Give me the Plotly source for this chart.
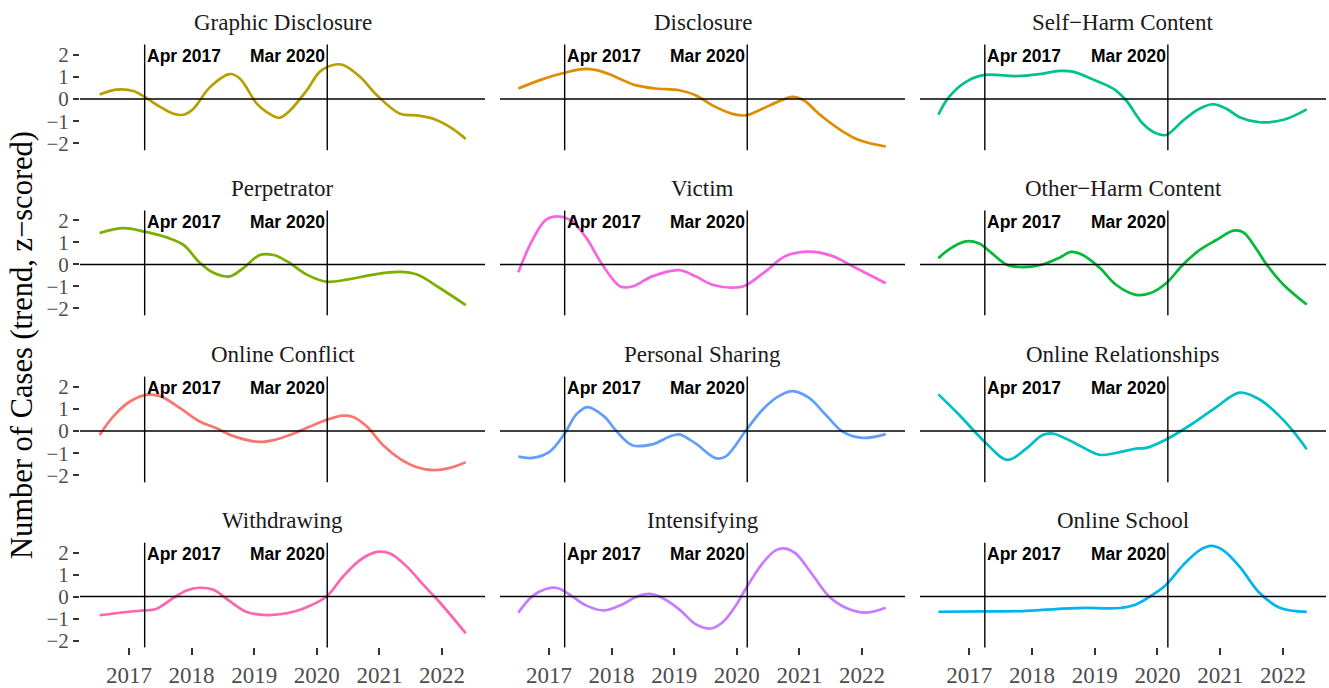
import plotly.graph_objects as go

W, H = 1329, 688

# ---------------- data (decimal years, z-scored trend) ----------------
names = ["Graphic Disclosure", "Disclosure", "Self\u2212Harm Content",
         "Perpetrator", "Victim", "Other\u2212Harm Content",
         "Online Conflict", "Personal Sharing", "Online Relationships",
         "Withdrawing", "Intensifying", "Online School"]
colors = ["#B79F00", "#DE8C00", "#00C08B",
          "#7CAE00", "#F564E3", "#00BA38",
          "#F8766D", "#619CFF", "#00BFC4",
          "#FF64B0", "#C77CFF", "#00B4F0"]

x_graphic = [2016.53, 2016.80, 2017.07, 2017.25, 2017.50, 2017.71, 2017.87, 2018.03, 2018.29, 2018.61, 2018.77,
             2019.04, 2019.20, 2019.40, 2019.57, 2019.84, 2020.05, 2020.26, 2020.42, 2020.69, 2020.96, 2021.33,
             2021.60, 2021.86, 2022.13, 2022.38]
y_graphic = [0.20, 0.42, 0.36, 0.09, -0.36, -0.67, -0.71, -0.44, 0.52, 1.12, 0.92,
             -0.21, -0.59, -0.85, -0.52, 0.39, 1.23, 1.53, 1.53, 1.00, 0.17, -0.67,
             -0.74, -0.89, -1.27, -1.80]

x_disclosure = [2016.51, 2016.89, 2017.25, 2017.59, 2017.85, 2018.12, 2018.38, 2018.70, 2019.08, 2019.34, 2019.61,
                2019.93, 2020.14, 2020.41, 2020.67, 2020.89, 2021.07, 2021.31, 2021.63, 2021.95, 2022.38]
y_disclosure = [0.47, 0.88, 1.18, 1.35, 1.23, 0.92, 0.62, 0.47, 0.39, 0.17, -0.29,
                -0.67, -0.74, -0.44, -0.11, 0.09, -0.06, -0.67, -1.35, -1.85, -2.14]

x_selfharm = [2016.51, 2016.68, 2016.95, 2017.25, 2017.75, 2018.12, 2018.44, 2018.65, 2018.97, 2019.29, 2019.50,
              2019.77, 2019.98, 2020.14, 2020.41, 2020.67, 2020.89, 2021.10, 2021.31, 2021.63, 2022.01, 2022.38]
y_selfharm = [-0.71, 0.09, 0.77, 1.08, 1.03, 1.12, 1.26, 1.23, 0.88, 0.47, -0.06,
              -1.12, -1.55, -1.62, -0.97, -0.44, -0.24, -0.44, -0.82, -1.05, -0.94, -0.47]

x_perp = [2016.53, 2016.91, 2017.25, 2017.60, 2017.87, 2018.13, 2018.35, 2018.61, 2018.83, 2019.09, 2019.31,
          2019.52, 2019.84, 2020.15, 2020.48, 2020.90, 2021.33, 2021.60, 2021.97, 2022.38]
y_perp = [1.43, 1.65, 1.49, 1.23, 0.89, 0.08, -0.38, -0.54, -0.15, 0.43, 0.43,
          0.15, -0.46, -0.78, -0.69, -0.46, -0.34, -0.46, -1.08, -1.85]

x_victim = [2016.51, 2016.73, 2016.95, 2017.16, 2017.35, 2017.59, 2017.85, 2018.14, 2018.33, 2018.65, 2019.08,
            2019.34, 2019.61, 2019.93, 2020.14, 2020.46, 2020.78, 2021.15, 2021.53, 2021.85, 2022.38]
y_victim = [-0.35, 1.08, 2.03, 2.18, 2.00, 1.23, 0.00, -1.00, -1.00, -0.54, -0.26,
            -0.54, -0.92, -1.05, -0.95, -0.31, 0.38, 0.58, 0.38, -0.08, -0.85]

x_otherharm = [2016.51, 2016.68, 2016.95, 2017.16, 2017.37, 2017.59, 2017.85, 2018.17, 2018.44, 2018.62, 2018.81,
               2019.08, 2019.34, 2019.66, 2019.88, 2020.14, 2020.41, 2020.67, 2020.94, 2021.21, 2021.37, 2021.58,
               2021.74, 2022.01, 2022.38]
y_otherharm = [0.28, 0.69, 1.05, 0.95, 0.49, 0.00, -0.12, 0.00, 0.31, 0.57, 0.43,
               -0.15, -0.92, -1.38, -1.31, -0.85, 0.00, 0.65, 1.11, 1.54, 1.46, 0.69,
               0.00, -0.92, -1.82]

x_conflict = [2016.53, 2016.75, 2017.02, 2017.28, 2017.50, 2017.81, 2018.13, 2018.40, 2018.67, 2019.07, 2019.31,
              2019.63, 2019.89, 2020.15, 2020.42, 2020.58, 2020.80, 2021.06, 2021.33, 2021.60, 2021.86, 2022.13,
              2022.38]
y_conflict = [-0.18, 0.66, 1.34, 1.63, 1.57, 1.04, 0.43, 0.12, -0.23, -0.49, -0.41,
              -0.11, 0.20, 0.50, 0.69, 0.63, 0.20, -0.64, -1.25, -1.63, -1.76, -1.66,
              -1.40]

x_sharing = [2016.51, 2016.73, 2017.00, 2017.25, 2017.43, 2017.61, 2017.88, 2018.06, 2018.33, 2018.65, 2018.92,
             2019.08, 2019.34, 2019.66, 2019.82, 2020.14, 2020.41, 2020.67, 2020.89, 2021.15, 2021.42, 2021.69,
             2022.01, 2022.38]
y_sharing = [-1.15, -1.21, -0.95, -0.11, 0.73, 1.08, 0.66, 0.05, -0.64, -0.60, -0.26,
             -0.15, -0.56, -1.22, -1.15, 0.00, 0.96, 1.57, 1.80, 1.50, 0.73, -0.03,
             -0.31, -0.14]

x_relations = [2016.51, 2016.84, 2017.25, 2017.61, 2017.91, 2018.17, 2018.33, 2018.65, 2019.08, 2019.40, 2019.66,
               2019.82, 2020.14, 2020.57, 2020.94, 2021.31, 2021.63, 2021.95, 2022.17, 2022.38]
y_relations = [1.65, 0.73, -0.49, -1.30, -0.79, -0.18, -0.11, -0.49, -1.07, -0.95, -0.79,
               -0.76, -0.38, 0.35, 1.08, 1.73, 1.42, 0.66, -0.03, -0.82]

x_withdraw = [2016.53, 2016.96, 2017.25, 2017.42, 2017.71, 2017.92, 2018.13, 2018.35, 2018.61, 2018.88, 2019.20,
              2019.52, 2019.84, 2020.15, 2020.42, 2020.69, 2020.96, 2021.17, 2021.44, 2021.70, 2021.97, 2022.38]
y_withdraw = [-0.85, -0.70, -0.63, -0.58, -0.06, 0.28, 0.40, 0.31, -0.21, -0.70, -0.84,
              -0.76, -0.48, -0.01, 0.91, 1.66, 2.03, 1.96, 1.36, 0.54, -0.28, -1.67]

x_intens = [2016.51, 2016.73, 2016.95, 2017.13, 2017.37, 2017.59, 2017.88, 2018.17, 2018.38, 2018.60, 2018.76,
            2019.08, 2019.34, 2019.58, 2019.77, 2019.98, 2020.14, 2020.41, 2020.62, 2020.78, 2020.94, 2021.21,
            2021.47, 2021.74, 2022.06, 2022.38]
y_intens = [-0.73, 0.01, 0.34, 0.39, 0.01, -0.40, -0.63, -0.36, -0.03, 0.12, 0.01,
            -0.58, -1.25, -1.45, -1.18, -0.43, 0.34, 1.51, 2.10, 2.18, 1.96, 0.99,
            0.01, -0.51, -0.73, -0.51]

x_school = [2016.51, 2017.25, 2017.85, 2018.38, 2018.86, 2019.18, 2019.40, 2019.66, 2019.93, 2020.14, 2020.41,
            2020.67, 2020.86, 2021.05, 2021.31, 2021.63, 2021.95, 2022.38]
y_school = [-0.69, -0.67, -0.66, -0.57, -0.51, -0.54, -0.52, -0.36, 0.09, 0.54, 1.43,
            2.10, 2.30, 2.10, 1.36, 0.16, -0.51, -0.70]

xs = [x_graphic, x_disclosure, x_selfharm, x_perp, x_victim, x_otherharm,
      x_conflict, x_sharing, x_relations, x_withdraw, x_intens, x_school]
ys = [y_graphic, y_disclosure, y_selfharm, y_perp, y_victim, y_otherharm,
      y_conflict, y_sharing, y_relations, y_withdraw, y_intens, y_school]

event_x = [2017.25, 2020.1667]
event_labels = ["Apr 2017", "Mar 2020"]
year_ticks = [2017, 2018, 2019, 2020, 2021, 2022]
y_ticks = [-2, -1, 0, 1, 2]
y_ticktext = ["\u22122", "\u22121", "0", "1", "2"]

# ---------------- layout geometry (pixels) ----------------
col_px = [(80, 485), (500, 905), (920, 1326)]
row_px = [(43, 150), (211, 317), (379, 486), (547, 653)]
XR = [2016.217, 2022.687]
YR = [-2.31, 2.45]

serif = "Liberation Serif"
sans = "Liberation Sans"

fig = go.Figure()
layout = dict(width=W, height=H, margin=dict(l=0, r=0, t=0, b=0), autosize=False,
              paper_bgcolor="white", plot_bgcolor="white", showlegend=False)
shapes = []
annotations = []

for i in range(12):
    r, c = divmod(i, 3)
    n = "" if i == 0 else str(i + 1)
    xa, ya = "x" + n, "y" + n
    x0, x1 = col_px[c]
    y0, y1 = row_px[r]
    bottom = (r == 3)
    left = (c == 0)
    layout["xaxis" + n] = dict(
        domain=[x0 / W, x1 / W], range=XR, anchor=ya,
        showgrid=False, zeroline=False, showline=False,
        tickvals=year_ticks, ticktext=[str(v) for v in year_ticks],
        showticklabels=bottom, ticks="outside" if bottom else "",
        ticklen=7, tickwidth=2.2, tickcolor="#333333",
        tickfont=dict(family=serif, size=23, color="#4D4D4D"),
    )
    layout["yaxis" + n] = dict(
        domain=[1 - y1 / H, 1 - y0 / H], range=YR, anchor=xa,
        showgrid=False, zeroline=False, showline=False,
        tickvals=y_ticks, ticktext=y_ticktext,
        showticklabels=left, ticks="outside" if left else "",
        ticklen=6, tickwidth=2.2, tickcolor="#333333",
        tickfont=dict(family=serif, size=21, color="#4D4D4D"),
    )
    fig.add_trace(go.Scatter(
        x=xs[i], y=ys[i], mode="lines", xaxis=xa, yaxis=ya,
        line=dict(color=colors[i], width=2.7, shape="spline", smoothing=1.0),
        hoverinfo="skip",
    ))
    shapes.append(dict(type="line", xref=xa + " domain", yref=ya, x0=0, x1=1, y0=0, y1=0,
                       line=dict(color="black", width=1.4)))
    for ex in event_x:
        shapes.append(dict(type="line", xref=xa, yref=ya + " domain", x0=ex, x1=ex, y0=0, y1=1,
                           line=dict(color="black", width=1.4)))
    annotations.append(dict(xref=xa, yref=ya, x=event_x[0], y=1.92, text="<b>" + event_labels[0] + "</b>",
                            xanchor="left", yanchor="middle", xshift=0, showarrow=False,
                            font=dict(family=sans, size=17.5, color="black")))
    annotations.append(dict(xref=xa, yref=ya, x=event_x[1], y=1.92, text="<b>" + event_labels[1] + "</b>",
                            xanchor="right", yanchor="middle", xshift=0, showarrow=False,
                            font=dict(family=sans, size=17.5, color="black")))
    annotations.append(dict(xref="paper", yref="paper", x=(x0 + x1) / 2 / W, y=1 - (y0 - 22) / H,
                            text=names[i], xanchor="center", yanchor="middle", showarrow=False,
                            font=dict(family=serif, size=23, color="#1A1A1A")))

annotations.append(dict(xref="paper", yref="paper", x=22 / W, y=1 - 347 / H,
                        text="Number of Cases (trend, z\u2212scored)", textangle=-90,
                        xanchor="center", yanchor="middle", showarrow=False,
                        font=dict(family=serif, size=30.5, color="black")))

layout["shapes"] = shapes
layout["annotations"] = annotations
fig.update_layout(**layout)
fig.write_html("out.html", config={"displayModeBar": False},
               post_script="document.body.style.margin='0';document.body.style.overflow='hidden';")
